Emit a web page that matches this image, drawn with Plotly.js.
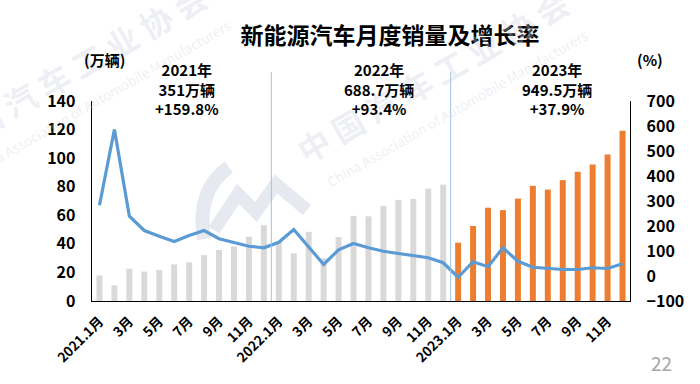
<!DOCTYPE html>
<html>
<head>
<meta charset="utf-8">
<script src="https://cdn.plot.ly/plotly-3.0.1.min.js"></script>
<style>html,body{margin:0;padding:0;background:#fff;}#chart{width:700px;height:384px;}</style>
</head>
<body>
<div id="chart"></div>
<script>
// ---- data ----
var categories = [
  "2021.1月","2021.2月","2021.3月","2021.4月","2021.5月","2021.6月","2021.7月","2021.8月","2021.9月","2021.10月","2021.11月","2021.12月",
  "2022.1月","2022.2月","2022.3月","2022.4月","2022.5月","2022.6月","2022.7月","2022.8月","2022.9月","2022.10月","2022.11月","2022.12月",
  "2023.1月","2023.2月","2023.3月","2023.4月","2023.5月","2023.6月","2023.7月","2023.8月","2023.9月","2023.10月","2023.11月","2023.12月"
];
var years = [2021,2021,2021,2021,2021,2021,2021,2021,2021,2021,2021,2021,
             2022,2022,2022,2022,2022,2022,2022,2022,2022,2022,2022,2022,
             2023,2023,2023,2023,2023,2023,2023,2023,2023,2023,2023,2023];
var sales2021 = [17.9, 11.0, 22.6, 20.6, 21.7, 25.6, 27.1, 32.1, 35.7, 38.3, 45.0, 53.1];
var sales2022 = [42.0, 33.4, 48.4, 29.9, 44.7, 59.6, 59.3, 66.6, 70.8, 71.4, 78.6, 81.4];
var sales2023 = [40.8, 52.5, 65.3, 63.6, 71.7, 80.6, 78.0, 84.6, 90.4, 95.6, 102.6, 119.1];
var growth2021 = [283, 586, 239, 182, 159, 138, 162, 182, 149, 133, 119, 113];
var growth2022 = [135, 186, 114, 46, 105, 130, 113, 99, 90, 82, 73, 53];
var growth2023 = [-5, 57, 37, 113, 59, 35, 31, 26, 26, 33, 30, 49];
var tickValues = ["2021.1月","2021.3月","2021.5月","2021.7月","2021.9月","2021.11月",
                  "2022.1月","2022.3月","2022.5月","2022.7月","2022.9月","2022.11月",
                  "2023.1月","2023.3月","2023.5月","2023.7月","2023.9月","2023.11月"];
var tickLabels = ["2021.1月","3月","5月","7月","9月","11月",
                  "2022.1月","3月","5月","7月","9月","11月",
                  "2023.1月","3月","5月","7月","9月","11月"];
var yearNotes = ["2021年<br>351万辆<br>+159.8%", "2022年<br>688.7万辆<br>+93.4%", "2023年<br>949.5万辆<br>+37.9%"];

// ---- build ----
var sales = sales2021.concat(sales2022, sales2023);
var growth = growth2021.concat(growth2022, growth2023);
var barColors = years.map(function(y){ return y === 2023 ? "#ed7d31" : "#d9d9d9"; });

var FONT = "'Noto Sans CJK SC', 'Noto Sans', sans-serif";
var W = 700, H = 384, L = 92, R = 70, T = 101, B = 83;
var PW = W - L - R, PH = H - T - B;
function px(x){ return (x - L) / PW; }
function py(y){ return (H - B - y) / PH; }
function pt(x, y){ return px(x).toFixed(4) + "," + py(y).toFixed(4); }

var traces = [
  {
    type: "bar", x: categories, y: sales, yaxis: "y",
    marker: {color: barColors, line: {width: 0}},
    hoverinfo: "x+y", showlegend: false
  },
  {
    type: "scatter", mode: "lines", x: categories, y: growth, yaxis: "y2",
    line: {color: "#5b9bd5", width: 3.2}, showlegend: false
  }
];

function note(x, y, text, size, extra){
  var a = {xref:"paper", yref:"paper", x: px(x), y: py(y), xanchor:"center", yanchor:"middle",
           text: text, showarrow:false, align:"center",
           font:{family:FONT, size:size, color:"#000", weight:"bold"}};
  if (extra) { for (var k in extra) a[k] = extra[k]; }
  return a;
}

var wmColor = "rgba(205,211,224,0.35)";
var annotations = [
  // watermark (drawn first)
  note(432, 76, "中 国 汽 车 工 业 协 会", 32, {textangle:-30, font:{family:FONT, size:32, color:wmColor, weight:"bold"}}),
  note(457, 108, "China Association of Automobile Manufacturers", 13.5, {textangle:-30, font:{family:FONT, size:13.5, color:wmColor}}),
  note(70, 70, "中 国 汽 车 工 业 协 会", 32, {textangle:-30, font:{family:FONT, size:32, color:wmColor, weight:"bold"}}),
  note(100, 98, "China Association of Automobile Manufacturers", 13.5, {textangle:-30, font:{family:FONT, size:13.5, color:wmColor}}),
  // texts
  note(187, 89.5, yearNotes[0], 15),
  note(379, 89.5, yearNotes[1], 15),
  note(557, 89.5, yearNotes[2], 15),
  note(104, 60, "(万辆)", 15),
  note(650, 60, "(%)", 15),
  note(661, 362, "22", 19, {font:{family:FONT, size:19, color:"#a6a6a6"}})
];

var logoColor = "rgba(222,226,235,0.75)";
var shapes = [
  // faint logo of the watermark
  {type:"path", xref:"paper", yref:"paper", layer:"below",
   path: "M " + pt(229,167) + " Q " + pt(196,190) + " " + pt(204,239),
   line:{color:logoColor, width:14}},
  {type:"path", xref:"paper", yref:"paper", layer:"below",
   path: "M " + pt(214,230) + " L " + pt(238,194) + " L " + pt(256,212) + " L " + pt(276,184) + " L " + pt(307,210),
   line:{color:logoColor, width:13}},
  // year separators
  {type:"line", xref:"x", yref:"paper", x0:11.5, x1:11.5, y0:0, y1:py(72), line:{color:"#9dc3e6", width:1}},
  {type:"line", xref:"x", yref:"paper", x0:23.5, x1:23.5, y0:0, y1:py(72), line:{color:"#9dc3e6", width:1}}
];

var layout = {
  width: W, height: H,
  margin: {l:L, r:R, t:T, b:B, pad:0},
  paper_bgcolor: "#ffffff", plot_bgcolor: "rgba(0,0,0,0)",
  font: {family: FONT, color: "#000"},
  title: {text: "新能源汽车月度销量及增长率", x: 390/W, xanchor:"center", xref:"container",
          y: 1 - 36/H, yanchor:"middle", yref:"container",
          font:{family:FONT, size:23, color:"#000", weight:"bold"}},
  bargap: 0.6,
  showlegend: false,
  xaxis: {
    type:"category", categoryorder:"array", categoryarray: categories,
    range:[-0.5, 35.5], tickmode:"array", tickvals: tickValues, ticktext: tickLabels,
    tickangle:-45, tickfont:{family:FONT, size:13.5, color:"#000", weight:"bold"},
    showline:true, linecolor:"#000", linewidth:1.3, showgrid:false, zeroline:false,
    ticks:"outside", ticklen:6, tickcolor:"rgba(0,0,0,0)", fixedrange:true
  },
  yaxis: {
    range:[0,140], dtick:20, tick0:0, showline:true, linecolor:"#000", linewidth:1.3,
    showgrid:false, zeroline:false, ticks:"outside", ticklen:12, tickcolor:"rgba(0,0,0,0)",
    tickfont:{family:FONT, size:16, color:"#000", weight:"bold"}, fixedrange:true
  },
  yaxis2: {
    overlaying:"y", side:"right", range:[-100,700], dtick:100, tick0:-100,
    showline:true, linecolor:"#000", linewidth:1.3, showgrid:false, zeroline:false,
    ticks:"outside", ticklen:12, tickcolor:"rgba(0,0,0,0)",
    tickfont:{family:FONT, size:16, color:"#000", weight:"bold"}, fixedrange:true
  },
  annotations: annotations,
  shapes: shapes
};

Plotly.newPlot("chart", traces, layout, {displayModeBar:false, staticPlot:true});
</script>
</body>
</html>
